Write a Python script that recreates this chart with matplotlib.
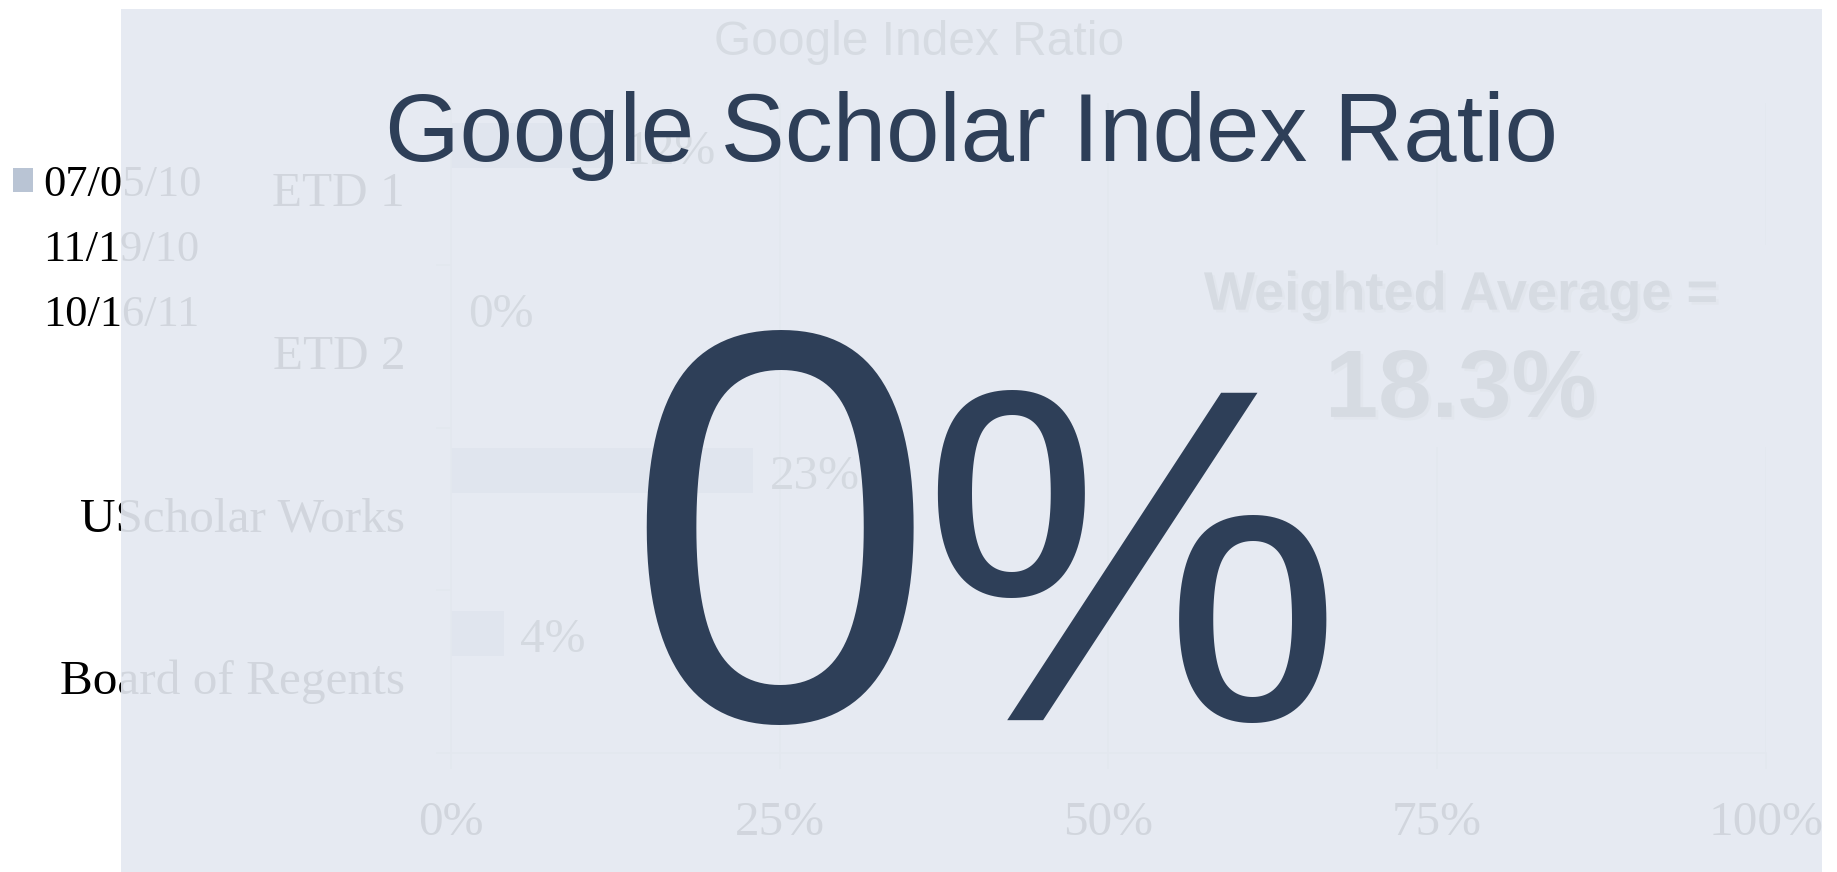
import matplotlib
matplotlib.use('Agg')
import matplotlib.pyplot as plt
import matplotlib.patheffects as pe
from matplotlib.patches import Rectangle, Patch
from matplotlib.transforms import ScaledTranslation

# chart data
categories = ['ETD 1', 'ETD 2', 'UScholar Works', 'Board of Regents']
series_names = ['07/05/10', '11/19/10', '10/16/11']
ratio_070510 = [0.12, 0.00, 0.23, 0.04]
x_ticks = [0, 0.25, 0.5, 0.75, 1.0]
x_tick_labels = ['0%', '25%', '50%', '75%', '100%']
weighted_average = '18.3%'
scholar_ratio = '0'

navy = '#2E3F58'
grid_col = '#D9D9D9'
serif = 'Liberation Serif'
sans = 'Liberation Sans'
lab_size = 35.5

fig = plt.figure(figsize=(18.37, 8.72), dpi=100)
ax = fig.add_axes([0.2455, 0.1365, 0.7158, 0.7454])

ypos = list(range(len(categories)))
bars = ax.barh([y - 0.236 for y in ypos], ratio_070510, height=0.276,
               color='#B9C4D4', zorder=2)
for y, v in zip(ypos, ratio_070510):
    ax.annotate(f'{v:.0%}', (v, y - 0.236), xytext=(12, -4.5), textcoords='offset points',
                va='center', ha='left', fontsize=lab_size, family=serif, color='#262626')

ax.set_xlim(0, 1)
ax.set_ylim(len(categories) - 0.5, -0.5)
ax.set_xticks(x_ticks, x_tick_labels)
ax.set_yticks([y - 0.5 for y in ypos] + [len(categories) - 0.5])
ax.set_yticks(ypos, minor=True)
ax.set_yticklabels(categories, minor=True)
ax.tick_params(axis='y', which='major', length=11, color=grid_col, width=1.2, labelleft=False)
ax.tick_params(axis='y', which='minor', length=0, pad=33, labelsize=lab_size)
ax.tick_params(axis='x', length=11.5, color=grid_col, width=1.2, pad=23, labelsize=lab_size)
for lab in ax.get_xticklabels() + ax.get_yticklabels(minor=True):
    lab.set_family(serif)
    lab.set_color('black')
for lab in ax.get_yticklabels(minor=True):
    lab.set_transform(lab.get_transform() + ScaledTranslation(0, -0.05, fig.dpi_scale_trans))
ax.grid(axis='x', color=grid_col, lw=1.2)
ax.set_axisbelow(True)
for s in ['top', 'right']:
    ax.spines[s].set_visible(False)
for s in ['left', 'bottom']:
    ax.spines[s].set_color(grid_col)
    ax.spines[s].set_linewidth(1.2)

# weighted average box
ax.add_patch(Rectangle((0.5316, 0.4708), 0.49, 0.31, transform=ax.transAxes,
                       facecolor='white', edgecolor='none', zorder=2.5, clip_on=False))
shadow = [pe.withSimplePatchShadow(offset=(2, -2), shadow_rgbFace='black', alpha=0.2)]
ax.text(0.768, 0.682, 'Weighted Average =', transform=ax.transAxes, ha='center',
        va='baseline', fontsize=39, fontweight='bold', family=sans, color='#404040',
        zorder=3, path_effects=shadow)
ax.text(0.768, 0.517, weighted_average, transform=ax.transAxes, ha='center',
        va='baseline', fontsize=69, fontweight='bold', family=sans, color='#404040',
        zorder=3, path_effects=shadow)

fig.text(0.5003, 0.937, 'Google Index Ratio', ha='center', va='baseline',
         fontsize=34.5, family=sans, color='#404040', zorder=3)

handles = [Patch(facecolor='#B9C4D4'), Patch(facecolor='white'), Patch(facecolor='white')]
fig.legend(handles, series_names, loc='upper left', bbox_to_anchor=(0.0071, 0.8108),
           frameon=False, prop={'family': serif, 'size': 32}, handlelength=0.45,
           handleheight=0.45, handletextpad=0.22, labelspacing=0.56, borderpad=0,
           borderaxespad=0)

# translucent slide panel over the chart
fig.add_artist(Rectangle((0.0659, 0), 0.9259, 0.9897, transform=fig.transFigure,
                         facecolor='#E4E9F1', alpha=0.92, edgecolor='none', zorder=10))

fig.text(0.529, 0.815, 'Google Scholar Index Ratio', ha='center', va='baseline',
         fontsize=69, family=sans, color=navy, zorder=11)
fig.text(0.3397, 0.1743, scholar_ratio, ha='left', va='baseline',
         fontsize=402, family=sans, color=navy, zorder=11)
fig.text(0.5008, 0.1743, '%', ha='left', va='baseline',
         fontsize=342, family=sans, color=navy, zorder=11)

fig.savefig('out.png', dpi=100)
